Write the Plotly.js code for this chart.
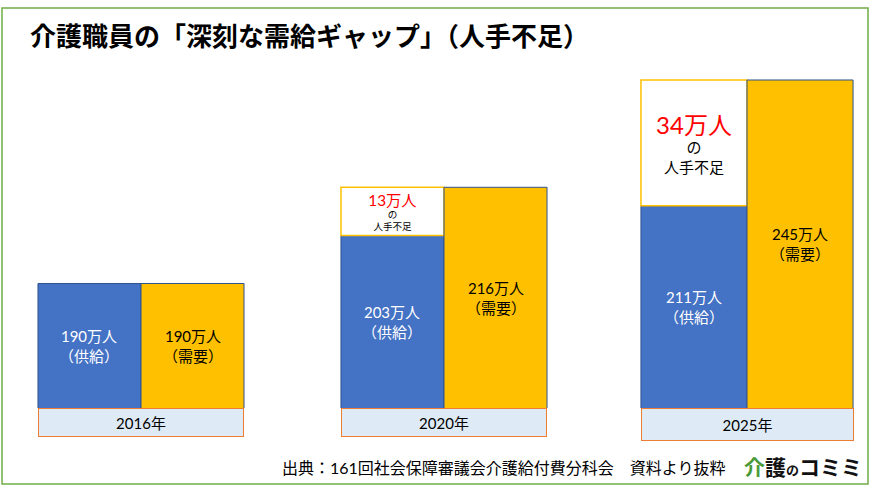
<!DOCTYPE html>
<html>
<head>
<meta charset="utf-8">
<script src="https://cdn.plot.ly/plotly-3.0.1.min.js"></script>
<style>html,body{margin:0;padding:0;background:#fff;}#chart{width:871px;height:486px;}</style>
</head>
<body>
<div id="chart"></div>
<script>
// ---- data ----
const years = ['2016年', '2020年', '2025年'];
const supply = [190, 203, 211];      // 万人（供給）
const demand = [190, 216, 245];      // 万人（需要）
const shortage = [0, 13, 34];        // 万人 人手不足
const supplyTag = '（供給）';
const demandTag = '（需要）';
const unit = '万人';
const titleText = '介護職員の「深刻な需給ギャップ」（人手不足）';
const sourceText = '出典：161回社会保障審議会介護給付費分科会　資料より抜粋';

// ---- style ----
const FONT = "Lato, 'Noto Sans CJK JP', sans-serif";
const BLUE = '#4472c4', ORANGE = '#ffc000', EDGE = '#2f528f';
const barW = [0.34, 0.34, 0.35];
const Y0 = 156.35, Y1 = 266.62;
const xs = years.map((_, i) => i);

const traces = [
  {
    type: 'bar', x: xs, y: supply, width: barW, offset: barW.map(w => -w),
    marker: {color: BLUE, line: {color: EDGE, width: 1}}, hoverinfo: 'skip', showlegend: false
  },
  {
    type: 'bar', x: xs, y: shortage.map(s => s > 0 ? s : null), base: supply,
    width: barW, offset: barW.map(w => -w),
    marker: {color: '#ffffff', line: {color: ORANGE, width: 1.5}},
    text: shortage.map(s => s > 0 ? `<span style="font-size:24px;color:#ff0000">${s}${unit}</span><br>の<br>人手不足` : ''),
    textposition: 'inside', insidetextanchor: 'middle', constraintext: 'inside',
    textfont: {family: FONT, size: 15, color: '#000'},
    hoverinfo: 'skip', showlegend: false
  },
  {
    type: 'bar', x: xs, y: demand, width: barW, offset: barW.map(() => 0),
    marker: {color: ORANGE, line: {color: EDGE, width: 1}}, hoverinfo: 'skip', showlegend: false
  }
];

const annotations = [];
xs.forEach((x, i) => {
  annotations.push({
    x: x - barW[i] / 2, y: (Y0 + supply[i]) / 2, xref: 'x', yref: 'y',
    text: supply[i] + unit + '<br>' + supplyTag, showarrow: false,
    font: {family: FONT, size: 15, color: '#ffffff'}, xanchor: 'center', yanchor: 'middle'
  });
  annotations.push({
    x: x + barW[i] / 2, y: (Y0 + demand[i]) / 2, xref: 'x', yref: 'y',
    text: demand[i] + unit + '<br>' + demandTag, showarrow: false,
    font: {family: FONT, size: 15, color: '#000000'}, xanchor: 'center', yanchor: 'middle'
  });
});
const yearBoxW = [204, 204, 211], yearBoxH = [27, 27, 31];
xs.forEach((x, i) => {
  annotations.push({
    x: x, y: 0, xref: 'x', yref: 'paper', xanchor: 'center', yanchor: 'top',
    text: years[i], showarrow: false, width: yearBoxW[i], height: yearBoxH[i],
    bgcolor: '#deebf7', bordercolor: '#ed7d31', borderwidth: 1, borderpad: 0,
    font: {family: FONT, size: 15, color: '#000'}
  });
});
annotations.push({
  x: 504 / 871, y: (408 - 468) / 408, xref: 'paper', yref: 'paper',
  xanchor: 'center', yanchor: 'middle', showarrow: false, text: sourceText,
  font: {family: FONT, size: 16, color: '#000'}
});
annotations.push({
  x: 803 / 871, y: (408 - 466) / 408, xref: 'paper', yref: 'paper',
  xanchor: 'center', yanchor: 'middle', showarrow: false,
  text: '<b><span style="color:#4a9a3a">介</span>護<span style="font-size:13px">の</span>コミミ</b>',
  font: {family: "'Noto Sans CJK JP', sans-serif", size: 21, color: '#111'}
});

const layout = {
  width: 871, height: 486,
  margin: {l: 0, r: 0, t: 0, b: 78},
  paper_bgcolor: '#ffffff', plot_bgcolor: '#ffffff',
  barmode: 'overlay',
  title: {
    text: titleText, x: 30 / 871, xanchor: 'left', xref: 'paper',
    y: 1 - 37 / 486, yref: 'container', yanchor: 'middle',
    font: {family: "'Noto Sans CJK JP', sans-serif", size: 26, color: '#000', weight: 'bold'}
  },
  xaxis: {visible: false, range: [-141 / 303, 730 / 303], fixedrange: true},
  yaxis: {visible: false, range: [Y0, Y1], fixedrange: true},
  annotations: annotations,
  shapes: [{
    type: 'rect', xref: 'paper', yref: 'paper',
    x0: 2 / 871, x1: 868 / 871, y0: (408 - 484) / 408, y1: (408 - 8) / 408,
    line: {color: '#70ad47', width: 1.5}, fillcolor: 'rgba(0,0,0,0)', layer: 'below'
  }],
  showlegend: false
};

Plotly.newPlot('chart', traces, layout, {displayModeBar: false, staticPlot: true});
</script>
</body>
</html>
